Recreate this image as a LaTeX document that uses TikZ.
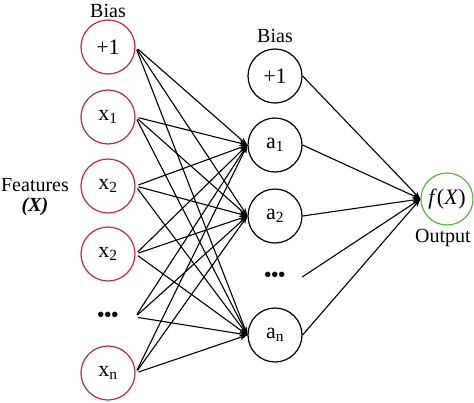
\documentclass[tikz,border=0pt]{standalone}
\usepackage{fontspec}
\setmainfont{Liberation Serif}
\usepackage{xcolor}
\usepackage{tikz}
\usetikzlibrary{arrows.meta}
\definecolor{inputred}{RGB}{185,45,60}
\definecolor{outgreen}{RGB}{90,180,70}

\tikzset{
  neuron/.style={draw, circle, line width=1.2pt, minimum size=54pt, inner sep=0pt, font=\fontsize{22}{26}\selectfont},
  blank/.style={circle, minimum size=54pt, inner sep=0pt},
  wire/.style={line width=1.1pt, -{Stealth[length=8pt,width=5.5pt]}}
}

\begin{document}
\begin{tikzpicture}[x=1pt, y=-1pt, font=\fontsize{20}{24}\selectfont]
  \useasboundingbox (0,0) rectangle (474,402);

  % input layer
  \node at (108,11) {Bias};
  \node[neuron, draw=inputred] (b1) at (108,47) {+1};
  \node[neuron, draw=inputred] (x1) at (108,117) {x\textsubscript{1}};
  \node[neuron, draw=inputred] (x2) at (108,186) {x\textsubscript{2}};
  \node[neuron, draw=inputred] (x3) at (108,254) {x\textsubscript{2}};
  \node[blank] (xd) at (108,317) {\textbf{\textbullet\textbullet\textbullet}};
  \node[neuron, draw=inputred] (xn) at (108,373) {x\textsubscript{n}};
  \node at (35,185) {Features};
  \node at (35,207) {\textbf{\textit{(X)}}};

  % hidden layer
  \node at (275,36) {Bias};
  \node[neuron] (b2) at (275,76) {+1};
  \node[neuron] (a1) at (275,145) {a\textsubscript{1}};
  \node[neuron] (a2) at (275,216) {a\textsubscript{2}};
  \node[blank] (ad) at (275,277) {\textbf{\textbullet\textbullet\textbullet}};
  \node[neuron] (an) at (275,335) {a\textsubscript{n}};

  % output
  \node[neuron, draw=outgreen, minimum size=52pt] (out) at (447,199) {\textit{f}(\textit{X})};
  \node at (443,238) {Output};

  \foreach \i in {b1,x1,x2,x3,xd,xn}
    \foreach \j in {a1,a2,an}
      \draw[wire, shorten <=3pt] (\i.east) -- (\j.west);

  \foreach \i in {b2,a1,a2,ad,an}
    \draw[wire] (\i.east) -- (out.west);
\end{tikzpicture}
\end{document}
